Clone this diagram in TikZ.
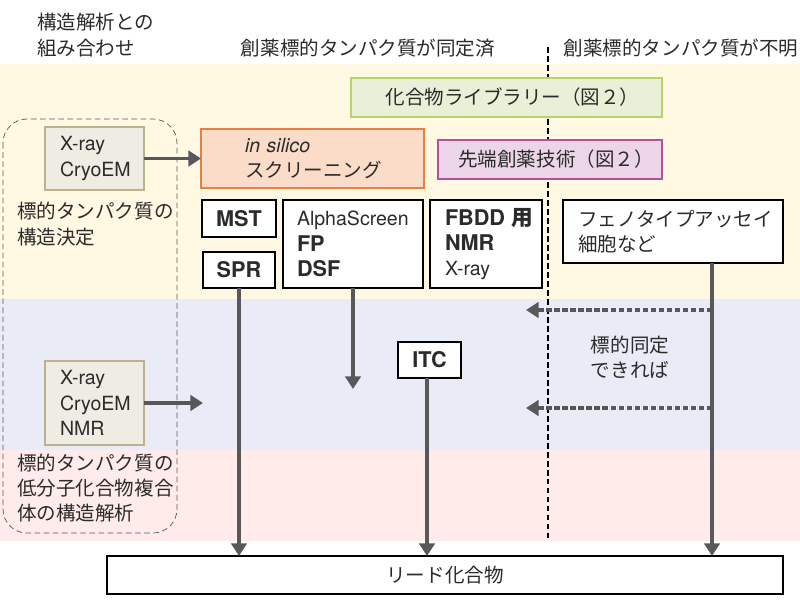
\documentclass[tikz,border=0pt]{standalone}
\usepackage{fontspec}
\usetikzlibrary{arrows.meta}
\setmainfont{TeX Gyre Heros}
\newfontfamily\cjk{Noto Sans CJK JP}
\lineskiplimit=-100pt
\newcommand{\tech}[1]{{\fontsize{15.4}{18}\selectfont\bfseries #1}}
\definecolor{bandcream}{HTML}{FFF8E3}
\definecolor{bandblue}{HTML}{E9EBF7}
\definecolor{bandpink}{HTML}{FEEBEA}
\definecolor{arrowgray}{HTML}{58585A}
\definecolor{inktext}{HTML}{2B2B2B}
\tikzset{
  every node/.style={font=\fontsize{13.9}{18}\selectfont,text=inktext},
  plainbox/.style={draw=black,line width=1.2pt,fill=white,minimum width=#1,inner sep=0pt,outer sep=0pt},
  insetbox/.style={anchor=west,align=left,inner ysep=0pt,inner xsep=0.375cm,outer sep=0pt,text width=#1},
  freetext/.style={anchor=west,align=left,inner sep=0pt},
  flow/.style={draw=arrowgray,line width=2.6pt,-{Triangle[length=9pt,width=11pt]}},
  dashflow/.style={flow,dash pattern=on 3.8pt off 1.9pt}
}
\begin{document}
\begin{tikzpicture}
	\useasboundingbox (0,0) rectangle (20,15);
	\fill[bandcream] (0,13.4) rectangle (20,7.525);
	\fill[bandblue] (0,7.525) rectangle (20,3.75);
	\fill[bandpink] (0,3.75) rectangle (20,1.475);
	\draw[black,line width=1.3pt,dash pattern=on 4pt off 2.4pt] (13.7,13.825) -- (13.7,1.475);
	\draw[arrowgray,line width=0.5pt,dash pattern=on 4pt off 2.5pt,rounded corners=0.6cm] (0.075,12.025) rectangle (4.425,1.675);
	% headers
	\draw (0.925,14.125) node[freetext] (headcombo) {\cjk 構造解析との\\\cjk 組み合わせ};
	\draw (9.2,13.8) node (headknown) {\cjk 創薬標的タンパク質が同定済};
	\draw (17.025,13.8) node (headunknown) {\cjk 創薬標的タンパク質が不明};
	% top band
	\draw (12.6625,12.5625) node[draw={rgb,255:red,181;green,213;blue,106},fill={rgb,255:red,232;green,240;blue,216},line width=1.2pt,minimum width=7.775cm,minimum height=0.975cm,inner sep=0pt,text height=0.4cm] (library) {\hspace{0.3cm}\cjk 化合物ライブラリー（図２）};
	\draw (13.75,11.0125) node[draw={rgb,255:red,176;green,84;blue,154},fill={rgb,255:red,236;green,213;blue,232},line width=1.2pt,minimum width=5.6cm,minimum height=0.975cm,inner sep=0pt] (advanced) {\hspace{0.3cm}\cjk 先端創薬技術（図２）};
	\draw (5.025,11.0375) node[insetbox=3.375cm,inner xsep=1.1cm,draw={rgb,255:red,233;green,128;blue,64},fill={rgb,255:red,251;green,220;blue,200},line width=1.2pt,minimum height=1.475cm] (insilico) {\textit{in silico}\\\cjk スクリーニング};
	\draw (1.125,11.0375) node[insetbox=1.725cm,draw={rgb,255:red,189;green,178;blue,140},fill={rgb,255:red,239;green,236;blue,228},line width=1.2pt,minimum height=1.575cm] (xraytop) {X-ray\\CryoEM};
	\draw (0.425,9.4) node[freetext] (structure) {\cjk 標的タンパク質の\\\cjk 構造決定};
	\draw (5.975,9.5375) node[plainbox=1.85cm,minimum height=0.925cm] (mst) {\tech{MST}};
	\draw (5.975,8.25) node[plainbox=1.8cm,minimum height=0.9cm] (spr) {\tech{SPR}};
	\draw (7.075,8.9) node[insetbox=2.8cm,inner xsep=0.35cm,draw=black,fill=white,line width=1.2pt,minimum height=2.2cm] (alpha) {AlphaScreen\\\tech{FP}\\\tech{DSF}};
	\draw (10.75,8.9) node[insetbox=2.05cm,draw=black,fill=white,line width=1.2pt,minimum height=2.2cm] (fbdd) {\tech{FBDD~{\cjk 用}}\\\tech{NMR}\\X-ray};
	\draw (14.075,9.2125) node[insetbox=4.75cm,draw=black,fill=white,line width=1.2pt,minimum height=1.575cm] (pheno) {\cjk フェノタイプアッセイ\\\cjk 細胞など};
	% lower bands
	\draw (1.125,4.925) node[insetbox=1.725cm,draw={rgb,255:red,189;green,178;blue,140},fill={rgb,255:red,239;green,236;blue,228},line width=1.2pt,minimum height=2.1cm] (xraybot) {X-ray\\CryoEM\\NMR};
	\draw (0.425,2.8) node[freetext] (complex) {\cjk 標的タンパク質の\\\cjk 低分子化合物複合\\\cjk 体の構造解析};
	\draw (10.7375,6) node[plainbox=1.575cm,minimum height=0.9cm] (itc) {\tech{ITC}};
	\draw (15.75,6.075) node[align=center] (identify) {\cjk 標的同定\\\cjk できれば};
	\draw (11.125,0.625) node[plainbox=16.9cm,minimum height=0.95cm] (lead) {\cjk リード化合物};
	% connectors
	\coordinate (xrayend) at (5.075,4.925);
	\coordinate (alphaend) at (8.825,5.275);
	\coordinate (itcx) at (10.675,0);
	\coordinate (phenox) at (17.8,0);
	\coordinate (dashtop) at (13.15,7.25);
	\coordinate (dashbot) at (13.15,4.8);
	\draw[flow] (xraytop.east) -- (insilico.west);
	\draw[flow] (xraybot.east) -- (xrayend);
	\draw[flow] (spr.south) -- (spr.south |- lead.north);
	\draw[flow] (alpha.south -| alphaend) -- (alphaend);
	\draw[flow] (itcx |- itc.south) -- (itcx |- lead.north);
	\draw[flow] (phenox |- pheno.south) -- (phenox |- lead.north);
	\draw[dashflow] (phenox |- dashtop) -- (dashtop);
	\draw[dashflow] (phenox |- dashbot) -- (dashbot);
\end{tikzpicture}
\end{document}
